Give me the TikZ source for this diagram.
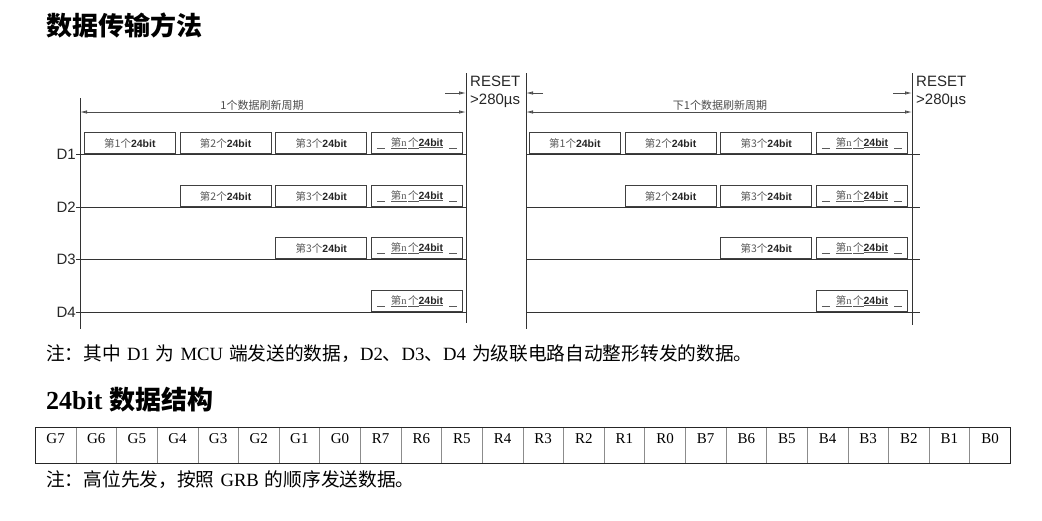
\documentclass[tikz,border=0pt]{standalone}
\usepackage{fontspec}
\setmainfont{Liberation Serif}
\setsansfont{Liberation Sans}
\newfontfamily\cjk{Noto Sans CJK SC}
\usetikzlibrary{arrows.meta, positioning}

\newcommand\boxlab[1]{{\cjk 第#1个}{\sffamily\bfseries\color{black!85}24bit}}
\newcommand\boxlabn{\rule[-2.5pt]{8pt}{0.8pt}\hspace{6pt}\underline{{\cjk 第}n}\hspace{1.5pt}\underline{\cjk 个}\underline{\sffamily\bfseries\color{black!85}24bit}\hspace{6pt}\rule[-2.5pt]{8pt}{0.8pt}}
\newcommand\wsp{\hspace{6pt}}

\begin{document}
\begin{tikzpicture}[
    x=1pt, y=-1pt,
    wire/.style={black!80, line width=0.9pt},
    span/.style={{Latex[length=7pt,width=3.5pt,fill=black!40]}-{Latex[length=7pt,width=3.5pt,fill=black!40]},
                 black!70, line width=0.8pt},
    gap/.style={-{Latex[length=7pt,width=3.5pt,fill=black!40]}, black!70, line width=0.8pt},
    bitbox/.style={draw=black!75, line width=0.8pt, anchor=south west, minimum width=91pt,
                   minimum height=21pt, inner sep=0pt, text=black!65,
                   font=\fontsize{10.5}{12}\selectfont},
    dlab/.style={anchor=east, inner sep=0pt, text=black!85, font=\sffamily\fontsize{15}{17}\selectfont},
    reset/.style={anchor=north west, align=left, inner sep=0pt, text=black!85,
                  font=\sffamily\fontsize{15}{18}\selectfont},
    period/.style={inner sep=0pt, text=black!70, font=\cjk\fontsize{11}{12}\selectfont},
    note/.style={anchor=west, inner sep=0pt, font=\fontsize{18.7}{20}\selectfont},
    head/.style={anchor=west, inner sep=0pt, font=\bfseries\fontsize{26}{28}\selectfont},
    cell/.style={draw=black!45, line width=0.7pt, anchor=north west, minimum width=40.625pt,
                 minimum height=36pt, inner sep=0pt},
    celltext/.style={inner sep=0pt, font=\fontsize{15}{17}\selectfont},
]
\useasboundingbox (0,0) rectangle (1042,520);

% --- headings -------------------------------------------------------------------
\node[head] (title) at (46,25) {\cjk\bfseries 数据传输方法};

% --- frame lines of the two refresh periods --------------------------------------
\coordinate (v0t) at (80,98);   \coordinate (v0b) at (80,329);
\coordinate (v1t) at (466,73);  \coordinate (v1b) at (466,323);
\coordinate (v2t) at (526,73);  \coordinate (v2b) at (526,329);
\coordinate (v3t) at (912,73);  \coordinate (v3b) at (912,325);
\foreach \v in {0,...,3} \draw[wire] (v\v t) -- (v\v b);

% --- period spans and reset gaps -------------------------------------------------
\coordinate (p0) at (80,112);  \coordinate (p1) at (466,112);
\coordinate (p2) at (526,112); \coordinate (p3) at (912,112);
\draw[span] (p0) -- (p1);
\draw[span] (p2) -- (p3);
\node[period] (per1) at (262,105) {1个数据刷新周期};
\node[period] (per2) at (720,105) {下1个数据刷新周期};

\coordinate (g1) at (445,93); \coordinate (g2) at (543,93); \coordinate (g3) at (893,93);
\draw[gap] (g1) -- (v1t |- g1);
\draw[gap] (g2) -- (v2t |- g2);
\draw[gap] (g3) -- (v3t |- g3);
\node[reset] (rst1) at (470,76) {RESET\\>280µs};
\node[reset] (rst2) at (916,76) {RESET\\>280µs};

% --- D1..D4: each line passes the frames on, one 24bit less per stage -------------
\foreach \r/\y/\f in {1/154/1, 2/207/2, 3/259/3, 4/312/4} {
  \node[dlab] (d\r) at (76,\y) {D\r};
  \coordinate (e\r) at (466,\y);
  \coordinate (s\r) at (526,\y);
  \coordinate (t\r) at (920,\y);
  \draw[wire] (d\r.east) -- (e\r);
  \draw[wire] (s\r) -- (t\r);
  \foreach \k in {\f,...,4}
    \foreach \sx/\p in {84/a, 529/b}
      \node[bitbox] (\p\r\k) at ({\sx+95.7*(\k-1)},\y)
        {\ifnum\k=4 \boxlabn\else\boxlab{\k}\fi};
}

\node[note] (note1) at (46,354)
  {{\cjk 注：其中}\wsp D1\wsp{\cjk 为}\wsp MCU\wsp{\cjk 端发送的数据，}D2{\cjk 、}D3{\cjk 、}D4\wsp{\cjk 为级联电路自动整形转发的数据。}};

% --- 24bit frame layout ------------------------------------------------------------
\node[head] (title2) at (46,400) {24bit {\cjk\bfseries 数据结构}};
\foreach \t [count=\i] in {G7,G6,G5,G4,G3,G2,G1,G0,R7,R6,R5,R4,R3,R2,R1,R0,B7,B6,B5,B4,B3,B2,B1,B0} {
  \node[cell] (c\i) at ({35+40.625*(\i-1)},427) {};
  \node[celltext, below=6pt of c\i.north] (ct\i) {\t};
}
\draw[black!85, line width=0.8pt] (c1.north west) rectangle (c24.south east);

\node[note] (note2) at (46,480) {{\cjk 注：高位先发，按照}\wsp GRB\wsp{\cjk 的顺序发送数据。}};

\end{tikzpicture}
\end{document}
